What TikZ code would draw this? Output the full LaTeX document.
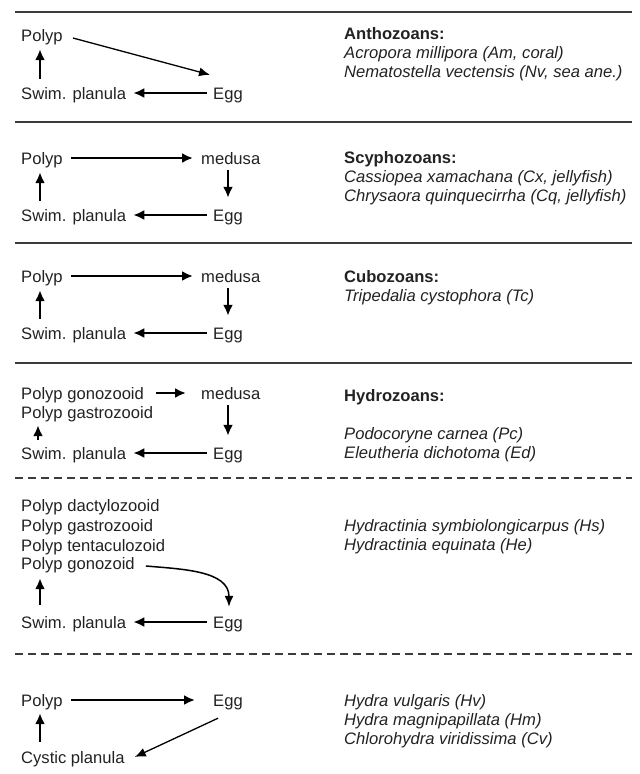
\documentclass[tikz,border=0pt]{standalone}
\usepackage{fontspec}
\setmainfont{Liberation Sans}
\usetikzlibrary{arrows.meta}
\definecolor{ink}{HTML}{222222}
\definecolor{rulegray}{HTML}{3C3C3C}

\begin{document}
\begin{tikzpicture}[x=1pt, y=-1pt,
    every node/.style={font=\fontsize{16.6}{19}\selectfont, text=ink},
    stage/.style={anchor=west, inner sep=0pt, text height=12pt, text depth=0pt},
    taxa/.style={anchor=north west, align=left, inner sep=0pt},
    arr/.style={-{Latex[length=11pt,width=10pt]}, line width=2.2pt},
    slim/.style={-{Latex[length=11pt,width=9pt]}, line width=1.3pt},
    toup/.style={arr, shorten <=8pt, shorten >=8pt},
    todown/.style={arr, shorten <=6pt, shorten >=11pt},
    toback/.style={arr, shorten <=6pt, shorten >=7pt},
    rule/.style={line width=1.3pt, draw=rulegray},
    dashrule/.style={rule, dash pattern=on 8pt off 5pt}]
    \useasboundingbox (0,0) rectangle (640,774);

    % separators
    \draw[rule] (15,12) -- (632,12);
    \draw[rule] (15,122) -- (632,122);
    \draw[rule] (15,243) -- (632,243);
    \draw[rule] (15,363) -- (632,363);
    \draw[dashrule] (15,478) -- (632,478);
    \draw[dashrule] (15,654) -- (632,654);

    % Anthozoans
    \node[stage] (p1) at (21,35) {Polyp};
    \node[stage] (sp1) at (21,93) {Swim. planula};
    \node[stage] (e1) at (213,93) {Egg};
    \node[taxa] (t1) at (344,27) {\textbf{Anthozoans:}\\
      \textit{Acropora millipora (Am, coral)}\\
      \textit{Nematostella vectensis (Nv, sea ane.)}};
    \draw[slim] ([xshift=10pt,yshift=-3pt]p1.east) -- ([xshift=-3pt,yshift=12pt]e1.north west);
    \draw[toback] (e1) -- (sp1);
    \draw[toup] ([xshift=19pt]sp1.north west) -- ([xshift=19pt]p1.south west);

    % Scyphozoans
    \node[stage] (p2) at (21,158) {Polyp};
    \node[stage] (m2) at (201,158) {medusa};
    \node[stage] (sp2) at (21,215) {Swim. planula};
    \node[stage] (e2) at (213,215) {Egg};
    \node[taxa] (t2) at (344,151) {\textbf{Scyphozoans:}\\
      \textit{Cassiopea xamachana (Cx, jellyfish)}\\
      \textit{Chrysaora quinquecirrha (Cq, jellyfish)}};
    \draw[arr, shorten <=8pt, shorten >=8pt] (p2) -- (m2);
    \draw[todown] ([xshift=27pt]m2.south west) -- ([xshift=15pt]e2.north west);
    \draw[toback] (e2) -- (sp2);
    \draw[toup] ([xshift=19pt]sp2.north west) -- ([xshift=19pt]p2.south west);

    % Cubozoans
    \node[stage] (p3) at (21,276) {Polyp};
    \node[stage] (m3) at (201,276) {medusa};
    \node[stage] (sp3) at (21,333) {Swim. planula};
    \node[stage] (e3) at (213,333) {Egg};
    \node[taxa] (t3) at (344,270) {\textbf{Cubozoans:}\\
      \textit{Tripedalia cystophora (Tc)}};
    \draw[arr, shorten <=8pt, shorten >=8pt] (p3) -- (m3);
    \draw[todown] ([xshift=27pt]m3.south west) -- ([xshift=15pt]e3.north west);
    \draw[toback] (e3) -- (sp3);
    \draw[toup] ([xshift=19pt]sp3.north west) -- ([xshift=19pt]p3.south west);

    % Hydrozoans
    \node[stage] (g4) at (21,393) {Polyp gonozooid};
    \node[stage] (gz4) at (21,412) {Polyp gastrozooid};
    \node[stage] (m4) at (201,393) {medusa};
    \node[stage] (sp4) at (21,453) {Swim. planula};
    \node[stage] (e4) at (213,453) {Egg};
    \node[taxa] (t4) at (344,389) {\textbf{Hydrozoans:}};
    \node[taxa] (t4b) at (344,427) {\textit{Podocoryne carnea (Pc)}\\
      \textit{Eleutheria dichotoma (Ed)}};
    \draw[arr, shorten <=12pt, shorten >=15pt] (g4) -- (m4);
    \draw[todown] ([xshift=27pt]m4.south west) -- ([xshift=15pt]e4.north west);
    \draw[toback] (e4) -- (sp4);
    \draw[arr, shorten <=7pt, shorten >=7pt] ([xshift=17pt]sp4.north west) -- ([xshift=17pt]gz4.south west);

    % Hydractinia
    \node[stage] (d5) at (21,505) {Polyp dactylozooid};
    \node[stage] (gs5) at (21,525) {Polyp gastrozooid};
    \node[stage] (tc5) at (21,545) {Polyp tentaculozoid};
    \node[stage] (g5) at (21,563) {Polyp gonozoid};
    \node[stage] (sp5) at (21,622) {Swim. planula};
    \node[stage] (e5) at (213,622) {Egg};
    \node[taxa] (t5) at (344,519) {\textit{Hydractinia symbiolongicarpus (Hs)}\\
      \textit{Hydractinia equinata (He)}};
    \draw[slim, line width=1.5pt] ([xshift=11pt,yshift=-3pt]g5.east) to[out=-5,in=90] ([xshift=16pt,yshift=9pt]e5.north west);
    \draw[toback] (e5) -- (sp5);
    \draw[arr, shorten <=11pt, shorten >=9pt] ([xshift=19pt]sp5.north west) -- ([xshift=19pt]g5.south west);

    % Hydra
    \node[stage] (p6) at (21,700) {Polyp};
    \node[stage] (e6) at (213,700) {Egg};
    \node[stage] (c6) at (21,757) {Cystic planula};
    \node[taxa] (t6) at (344,694) {\textit{Hydra vulgaris (Hv)}\\
      \textit{Hydra magnipapillata (Hm)}\\
      \textit{Chlorohydra viridissima (Cv)}};
    \draw[arr, shorten <=8pt, shorten >=18pt] (p6) -- (e6);
    \draw[slim] ([xshift=5pt,yshift=-12pt]e6.south west) -- ([xshift=10pt]c6.east);
    \draw[arr, shorten <=9pt, shorten >=7pt] ([xshift=19pt]c6.north west) -- ([xshift=19pt]p6.south west);
\end{tikzpicture}
\end{document}
